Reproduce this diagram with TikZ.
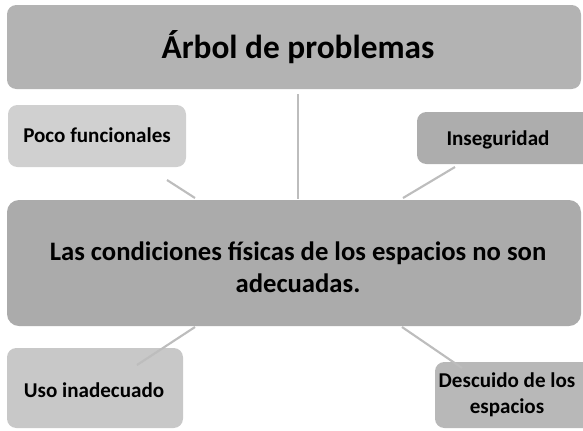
\documentclass[tikz,border=0pt]{standalone}
\usepackage{fontspec}
\setmainfont{Carlito}
\definecolor{topc}{HTML}{B3B3B3}
\definecolor{pococ}{HTML}{D0D0D0}
\definecolor{insc}{HTML}{ADADAD}
\definecolor{mainc}{HTML}{ABABAB}
\definecolor{usoc}{HTML}{C8C8C8}
\definecolor{descc}{HTML}{B8B8B8}
\definecolor{linec}{HTML}{BDBDBD}
\begin{document}
\begin{tikzpicture}[x=0.75pt,y=-0.75pt,
  box/.style={rounded corners=7pt},
  lbl/.style={font=\bfseries, align=center, inner sep=0pt},
  small/.style={lbl,font=\bfseries\fontsize{15.8}{19.5}\selectfont},
  conn/.style={draw=linec, line width=1.6pt}]
\useasboundingbox (0,0) rectangle (583,430);
\begin{scope}
\clip (0,0) rectangle (583,430);
% boxes
\fill[topc,box] (7,5) rectangle (581,89);
\fill[pococ,box] (8,105) rectangle (186,167);
\fill[insc,box] (417,112) rectangle (595,164);
\fill[mainc,box,rounded corners=9pt] (7,200) rectangle (581,326);
\fill[usoc,box] (7,348) rectangle (183,428);
\fill[descc,box] (435,362) rectangle (595,428);
% labels
\node[lbl,font=\bfseries\fontsize{25}{30}\selectfont] (title) at (298,47) {Árbol de problemas};
\node[small] (poco) at (97,135) {Poco funcionales};
\node[small] (ins) at (498,140) {Inseguridad};
\node[lbl,font=\bfseries\fontsize{20}{24}\selectfont] (main) at (298,267) {Las condiciones físicas de los espacios no son\\adecuadas.};
\node[small] (uso) at (94,390) {Uso inadecuado};
\node[small] (desc) at (507,395) {Descuido de los\\espacios};
% connector endpoints
\coordinate (a1) at (298,94);   \coordinate (a2) at (298,199);
\coordinate (b1) at (167,180);  \coordinate (b2) at (195,198);
\coordinate (c1) at (455,167);  \coordinate (c2) at (403,198);
\coordinate (d1) at (195,327);  \coordinate (d2) at (137,365);
\coordinate (e1) at (402,327);  \coordinate (e2) at (462,368);
\draw[conn] (a1) -- (a2);
\draw[conn] (b1) -- (b2);
\draw[conn] (c1) -- (c2);
\draw[conn] (d1) -- (d2);
\draw[conn] (e1) -- (e2);
\end{scope}
\end{tikzpicture}
\end{document}
